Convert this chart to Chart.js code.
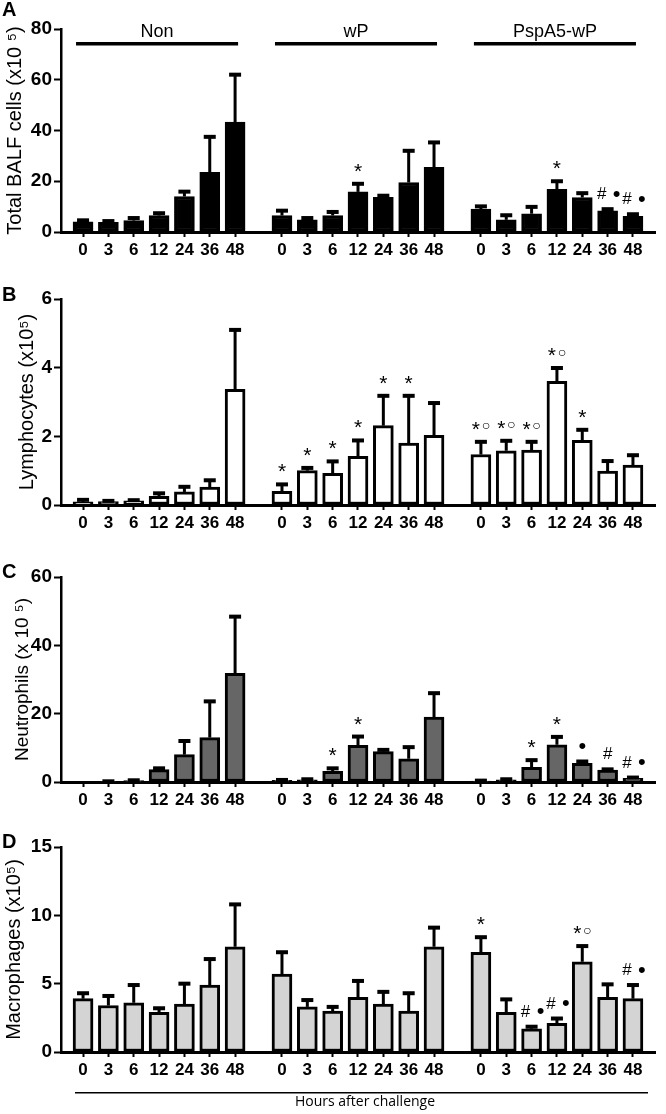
<!DOCTYPE html>
<html><head><meta charset="utf-8">
<script src="https://cdn.jsdelivr.net/npm/chart.js@4.4.1/dist/chart.umd.min.js"></script>
<style>
html,body{margin:0;padding:0;background:#fff;}
#wrap{position:relative;width:666px;height:1114px;overflow:hidden;}
canvas{position:absolute;left:0;}
</style></head><body>
<div id="wrap">
<canvas id="cA" width="666" height="265" style="top:0px"></canvas>
<canvas id="cB" width="666" height="265" style="top:265px"></canvas>
<canvas id="cC" width="666" height="282" style="top:530px"></canvas>
<canvas id="cD" width="666" height="302" style="top:812px"></canvas>
</div>
<script>
// ---- data ----
const hours = ['0','3','6','12','24','36','48'];
const groups = ['Non','wP','PspA5-wP'];

// Panel A: Total BALF cells (x10^5), order Non 0..48, wP 0..48, PspA5-wP 0..48
const totalMean = [4.0,3.8,4.5,6.5,14.0,23.5,43.3, 6.5,4.8,6.5,15.8,13.7,19.5,25.5, 9.0,4.8,7.2,16.8,13.6,8.3,6.2];
const totalSem  = [0.6,0.5,1.0,0.9,1.9,14.0,18.7, 1.9,0.7,1.4,3.2,0.6,12.5,9.8, 1.1,1.8,2.7,3.2,1.7,0.7,0.8];
const totalMarks = ['','','','','','','', '','','','*','','','', '','','','*','','#•','#•'];

// Panel B: Lymphocytes (x10^5)
const lymphMean = [0.09,0.10,0.12,0.25,0.38,0.52,3.37, 0.40,1.00,0.92,1.42,2.31,1.80,2.03, 1.47,1.58,1.60,3.60,1.88,0.99,1.16];
const lymphSem  = [0.06,0.02,0.02,0.09,0.15,0.20,1.73, 0.20,0.08,0.35,0.46,0.87,1.38,0.94, 0.37,0.29,0.24,0.39,0.31,0.29,0.29];
const lymphMarks = ['','','','','','','', '*','*','*','*','*','*','', '*○','*○','*○','*○','*','',''];

// Panel C: Neutrophils (x10^5)
const neutMean = [0,0.15,0.4,3.6,8.0,13.0,31.8, 0.5,0.6,3.1,10.7,8.9,6.8,19.0, 0.3,0.6,4.3,10.9,5.5,3.5,1.1];
const neutSem  = [0,0.05,0.1,0.4,4.0,10.6,16.6, 0.1,0.2,0.9,2.6,0.5,3.4,7.0, 0.1,0.2,2.1,2.3,0.5,0.2,0.2];
const neutMarks = ['','','','','','','', '','','*','*','','','', '','','*','*','•','#','#•'];

// Panel D: Macrophages (x10^5)
const macMean = [3.9,3.4,3.6,2.9,3.5,4.9,7.7, 5.7,3.3,3.0,4.0,3.5,3.0,7.7, 7.3,2.9,1.7,2.1,6.6,4.0,3.9];
const macSem  = [0.4,0.7,1.3,0.3,1.5,1.9,3.1, 1.6,0.5,0.3,1.2,0.9,1.3,1.4, 1.1,0.95,0.15,0.35,1.15,0.95,1.0];
const macMarks = ['','','','','','','', '','','','','','','', '*','','#•','#•','*○','','#•'];

const yTicksA = [0,20,40,60,80];
const yTicksB = [0,2,4,6];
const yTicksC = [0,20,40,60];
const yTicksD = [0,5,10,15];

// ---- layout ----
const FONT = "'Liberation Sans', Arial, Helvetica, sans-serif";
const GROUP_STEP = 7.85;
const XMIN = -0.87, XMAX = 22.57;
const positions = [];
for (let g = 0; g < groups.length; g++) for (let i = 0; i < hours.length; i++) positions.push(g * GROUP_STEP + i);

function drawSym(ctx, ch, x, cy) {
  ctx.textAlign = 'center';
  ctx.textBaseline = 'alphabetic';
  ctx.fillStyle = '#000';
  let size = 16;
  if (ch === '*') size = 21;
  else if (ch === '#') size = 17;
  else if (ch === '•') size = 22;
  else if (ch === '○') size = 14;
  ctx.font = size + 'px ' + FONT;
  const m = ctx.measureText(ch);
  const base = cy + (m.actualBoundingBoxAscent - m.actualBoundingBoxDescent) / 2;
  ctx.fillText(ch, x, base);
}
function drawMark(ctx, s, x, cy) {
  if (!s) return;
  if (s === '*○') { drawSym(ctx, '*', x - 5, cy); drawSym(ctx, '○', x + 5, cy); }
  else if (s === '#•') { drawSym(ctx, '#', x - 6, cy); drawSym(ctx, '•', x + 9, cy); }
  else drawSym(ctx, s, x, cy);
}

const panelPlugin = {
  id: 'panelDeco',
  afterDatasetsDraw(chart) {
    const p = chart.options.plugins.panelDeco;
    const ctx = chart.ctx;
    const meta = chart.getDatasetMeta(0);
    const ys = chart.scales.y;
    ctx.save();
    meta.data.forEach((bar, i) => {
      const mean = p.mean[i], sem = p.sem[i];
      const x = bar.x;
      const yTop = ys.getPixelForValue(mean);
      const yErr = ys.getPixelForValue(mean + sem);
      if (sem > 0) {
        ctx.strokeStyle = '#000';
        ctx.lineWidth = 3;
        ctx.beginPath();
        ctx.moveTo(x, yTop);
        ctx.lineTo(x, yErr);
        ctx.stroke();
        ctx.fillStyle = '#000';
        ctx.fillRect(x - 6, yErr - 2, 12, 4);
      }
      drawMark(ctx, p.marks[i], x, yErr - 16);
    });
    ctx.restore();
  },
  afterDraw(chart) {
    const p = chart.options.plugins.panelDeco;
    const ctx = chart.ctx;
    const xs = chart.scales.x;
    const ca = chart.chartArea;
    ctx.save();
    ctx.fillStyle = '#000';
    ctx.font = 'bold 20px ' + FONT;
    ctx.textAlign = 'left';
    ctx.textBaseline = 'middle';
    ctx.fillText(p.letter, 2, p.letterY);
    if (p.headers) {
      groups.forEach((name, g) => {
        const x0 = xs.getPixelForValue(g * GROUP_STEP) - 7;
        const x1 = xs.getPixelForValue(g * GROUP_STEP + 6) + 3;
        ctx.fillRect(x0, ca.top + 13, x1 - x0, 3.5);
        ctx.font = '18px ' + FONT;
        ctx.textAlign = 'center';
        ctx.textBaseline = 'middle';
        ctx.fillText(name, (x0 + x1) / 2, ca.top + 3);
      });
    }
    if (p.footer) {
      ctx.fillRect(75, ca.bottom + 40, 573, 1.5);
      ctx.font = "14px 'Open Sans', sans-serif";
      ctx.textAlign = 'center';
      ctx.textBaseline = 'middle';
      ctx.fillText(p.footer, 365, ca.bottom + 50);
    }
    ctx.restore();
  }
};

function makePanel(id, cfg) {
  const data = positions.map((x, i) => ({ x: x, y: cfg.mean[i] }));
  new Chart(document.getElementById(id), {
    type: 'bar',
    data: { datasets: [{
      data: data,
      backgroundColor: cfg.fill,
      borderColor: '#000',
      borderWidth: 3,
      borderSkipped: false,
      barThickness: 20
    }] },
    options: {
      responsive: false,
      animation: false,
      devicePixelRatio: 1,
      layout: { padding: { top: cfg.padTop, right: 11, left: 0, bottom: 0 } },
      plugins: {
        legend: { display: false },
        tooltip: { enabled: false },
        panelDeco: {
          mean: cfg.mean, sem: cfg.sem, marks: cfg.marks,
          letter: cfg.letter, letterY: cfg.letterY,
          headers: cfg.headers, footer: cfg.footer
        }
      },
      scales: {
        x: {
          type: 'linear',
          min: XMIN, max: XMAX,
          offset: false,
          afterBuildTicks: (s) => { s.ticks = positions.map(v => ({ value: v })); },
          afterFit: (s) => { s.height = cfg.xh; },
          ticks: {
            autoSkip: false, maxRotation: 0, minRotation: 0, padding: 3,
            color: '#000',
            font: { family: FONT, size: 17, weight: 'bold' },
            callback: (v, i) => hours[i % hours.length]
          },
          grid: { display: true, offset: false, drawOnChartArea: false, drawTicks: true, tickLength: 5, tickWidth: 2, tickColor: '#000' },
          border: { display: true, color: '#000', width: 3 }
        },
        y: {
          min: 0, max: cfg.yTicks[cfg.yTicks.length - 1],
          afterBuildTicks: (s) => { s.ticks = cfg.yTicks.map(v => ({ value: v })); },
          afterFit: (s) => { s.width = 61; },
          ticks: { color: '#000', padding: 2, font: { family: FONT, size: 19, weight: 'bold' } },
          grid: { display: true, drawOnChartArea: false, drawTicks: true, tickLength: 7, tickWidth: 2, tickColor: '#000' },
          border: { display: true, color: '#000', width: 2.5 },
          title: {
            display: true, text: cfg.title, color: '#000',
            font: { family: FONT, size: cfg.titleSize },
            padding: { top: cfg.titlePad, bottom: 0 }
          }
        }
      }
    },
    plugins: [panelPlugin]
  });
}

makePanel('cA', { mean: totalMean, sem: totalSem, marks: totalMarks, yTicks: yTicksA, fill: '#000000',
  title: 'Total BALF cells (x10 ⁵)', titleSize: 20, titlePad: 3, padTop: 29, xh: 33, letter: 'A', letterY: 10, headers: true });
makePanel('cB', { mean: lymphMean, sem: lymphSem, marks: lymphMarks, yTicks: yTicksB, fill: '#ffffff',
  title: 'Lymphocytes (x10⁵)', titleSize: 20, titlePad: 15, padTop: 34, xh: 25, letter: 'B', letterY: 30 });
makePanel('cC', { mean: neutMean, sem: neutSem, marks: neutMarks, yTicks: yTicksC, fill: '#666666',
  title: 'Neutrophils (x 10 ⁵)', titleSize: 19, titlePad: 11, padTop: 47, xh: 30, letter: 'C', letterY: 42 });
makePanel('cD', { mean: macMean, sem: macSem, marks: macMarks, yTicks: yTicksD, fill: '#d4d4d4',
  title: 'Macrophages (x10⁵)', titleSize: 20, titlePad: 2, padTop: 35, xh: 62, letter: 'D', letterY: 30, footer: 'Hours after challenge' });
</script>
</body></html>
